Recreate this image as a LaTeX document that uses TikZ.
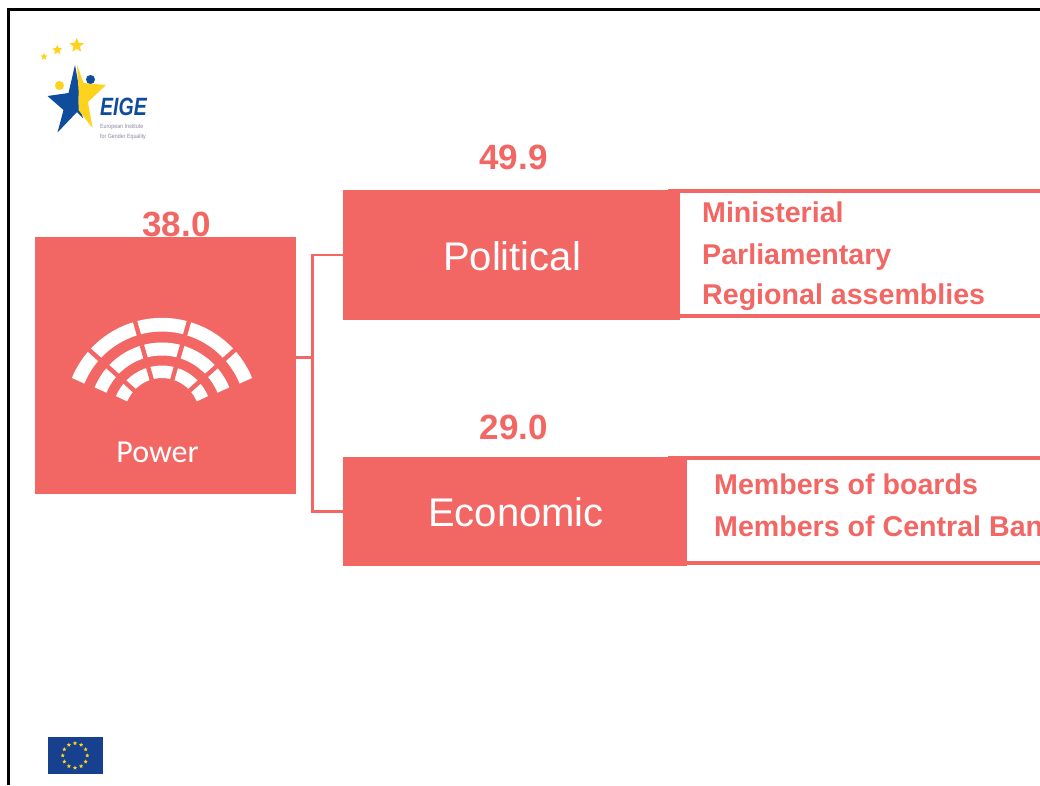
\documentclass[tikz,border=0pt]{standalone}
\usepackage{fontspec}
\setmainfont{Liberation Sans}
\newfontfamily\powerfont{Carlito}
\usetikzlibrary{shapes.geometric}
\definecolor{pow}{HTML}{F26664}
\definecolor{eigeblue}{HTML}{0F4C9C}
\definecolor{eigeyellow}{HTML}{FFD21E}
\definecolor{eiflag}{HTML}{17408F}
\definecolor{eigegrey}{HTML}{8C86A8}
\tikzset{
 block/.style={fill=pow,draw=none,inner sep=0pt,text=white,font=\fontsize{40}{40}\selectfont},
 score/.style={text=pow,inner sep=0pt,font=\bfseries\fontsize{35}{35}\selectfont},
 item/.style={text=pow,inner sep=0pt,anchor=base west,font=\bfseries\fontsize{28.6}{28.6}\selectfont},
 link/.style={draw=pow,line width=2.4pt},
 edgeline/.style={draw=pow,line width=4pt},
 seat/.style={draw=white,line cap=butt},
 goldstar/.style={star,star points=5,star point ratio=2.2,fill=eigeyellow,draw=none,inner sep=0pt,minimum size=#1},
 tiny/.style={text=eigegrey,inner sep=0pt,anchor=west,xscale=.87,font=\fontsize{6.1}{6.1}\selectfont},
}
\begin{document}
\begin{tikzpicture}[x=1pt,y=1pt]
\useasboundingbox (0,0) rectangle (1040,-785);
\clip (0,0) rectangle (1040,-785);
\fill[white] (0,0) rectangle (1040,-785);
% outer frame
\draw[black,line width=2.8pt] (8.7,-785) -- (8.7,-9.4) -- (1040,-9.4);

% blocks
\node[block,minimum width=261pt,minimum height=257pt] (power) at (165.5,-365.5) {};
\node[block,minimum width=337pt,minimum height=130pt] (political) at (511.5,-255) {};
\node[block,minimum width=344pt,minimum height=109pt] (economic) at (515,-511.5) {};
\node[text=white,inner sep=0pt,font=\fontsize{40}{40}\selectfont] (pollabel) at (512,-256) {Political};
\node[text=white,inner sep=0pt,font=\fontsize{40}{40}\selectfont] (ecolabel) at (516,-512.5) {Economic};

% scores
\node[score] (s1) at (176.5,-224) {38.0};
\node[score] (s2) at (513.5,-157) {49.9};
\node[score] (s3) at (514,-427) {29.0};

% connectors
\coordinate (bus) at (312.5,-357.3);
\draw[link] (power.east |- bus) -- (bus);
\draw[link] (political.west) -| (bus) |- (economic.west);

% item brackets
\coordinate (ptr) at (1040,-191);
\coordinate (pbr) at (1040,-316.3);
\coordinate (etr) at (1040,-457.7);
\coordinate (ebr) at (1040,-563.3);
\draw[edgeline] (668,-191) -- (ptr);
\draw[edgeline] (political.east |- pbr) -- (pbr);
\draw[edgeline] (668,-457.7) -- (etr);
\draw[edgeline] (economic.east |- ebr) -- (ebr);

% items
\node[item] (i1) at (702,-222) {Ministerial};
\node[item] (i2) at (702,-264) {Parliamentary};
\node[item] (i3) at (702,-304) {Regional assemblies};
\node[item] (i4) at (714,-494) {Members of boards};
\node[item] (i5) at (714,-536) {Members of Central Bank};

% hemicycle icon
\begin{scope}[shift={(162,-415.5)}]
 \foreach \r/\w in {90.8/13.7,66.5/13,43.7/12.5}{
  \draw[seat,line width=\w pt] (157.5:\r) arc[start angle=157.5,end angle=22.5,radius=\r];
  \foreach \a in {138,106,74,42}{
   \draw[pow,line width=4.4pt] (\a:\r-\w/2-1) -- (\a:\r+\w/2+1);
  }
 }
\end{scope}
\node[text=white,inner sep=0pt,font=\powerfont\fontsize{32}{32}\selectfont] (powlabel) at (157.5,-452) {Power};

% EIGE logo
\node[goldstar=15pt] (st1) at (76.7,-45.5) {};
\node[goldstar=10.5pt] (st2) at (57.3,-50) {};
\node[goldstar=7.5pt] (st3) at (44,-56.7) {};
\fill[eigeblue] (75,-65) -- (79,-87) -- (78.5,-104) -- (83,-118) -- (77,-112) -- (57.5,-132.5) -- (63.5,-110) -- (47.5,-96) -- (68.5,-93) -- cycle;
\fill[eigeyellow] (77,-65) -- (83.5,-83) -- (106,-85) -- (88,-102) -- (92.5,-128) -- (78.5,-110) -- (78.5,-90) -- cycle;
\fill[eigeyellow] (59.5,-85.5) circle[radius=4.5];
\fill[eigeblue] (90.5,-79.5) circle[radius=4.5];
\node[text=eigeblue,inner sep=0pt,anchor=west,xscale=.78,font=\bfseries\itshape\fontsize{25}{25}\selectfont] (eige) at (100,-107) {EIGE};
\node[tiny] (eig1) at (100,-127) {European Institute};
\node[tiny] (eig2) at (100,-137) {for Gender Equality};

% EU flag
\node[fill=eiflag,draw=none,inner sep=0pt,minimum width=55pt,minimum height=37pt] (flag) at (75,-755.5) {};
\foreach \a in {0,30,...,330}{
 \node[goldstar=4.4pt] (fs\a) at ([shift={(\a:12.3)}]flag.center) {};
}
\end{tikzpicture}
\end{document}
